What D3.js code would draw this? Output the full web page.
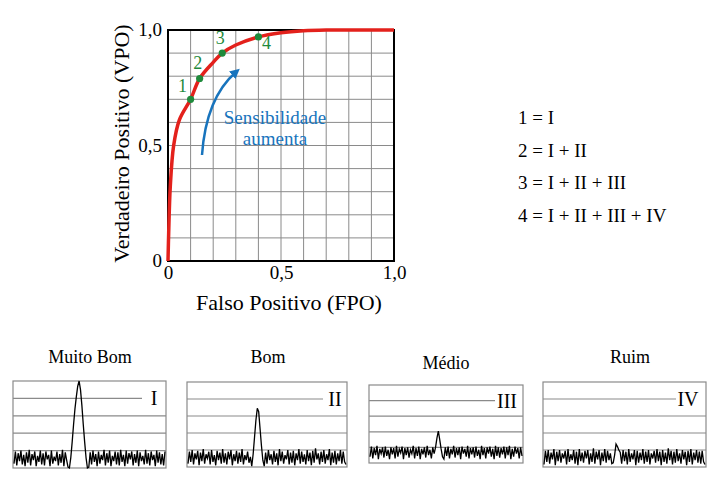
<!DOCTYPE html>
<html><head><meta charset="utf-8">
<script src="https://cdn.jsdelivr.net/npm/d3@7"></script>
<style>body{margin:0;background:#fff}svg{display:block}</style>
</head><body>
<svg id="c" width="715" height="500" font-family="Liberation Serif"></svg>
<script>
// ---- data ----
const rocFPO = [0,0.003,0.01,0.025,0.05,0.1,0.14,0.2,0.24,0.3,0.4,0.5,0.6,0.7,0.85,1.0];
const rocVPO = [0,0.12,0.32,0.5,0.61,0.7,0.79,0.86,0.9,0.935,0.97,0.988,0.997,1.0,1.0,1.0];
const pointFPO = [0.1,0.14,0.24,0.4];
const pointVPO = [0.7,0.79,0.9,0.97];
const pointLabels = ["1","2","3","4"];
const axisTicks = [0,0.5,1];
const axisTickLabels = ["0","0,5","1,0"];
const legendLines = ["1 = I","2 = I + II","3 = I + II + III","4 = I + II + III + IV"];
const panelTitles = ["Muito Bom","Bom","Médio","Ruim"];
const panelLabels = ["I","II","III","IV"];
const traceI = [0.05,0.19,0.03,0.17,0.08,0.2,0.04,0.15,0.02,0.18,
0.06,0.21,0.03,0.16,0.09,0.19,0.02,0.14,0.07,0.2,
0.04,0.17,0.03,0.19,0.1,0.15,0.02,0.2,0.05,0.13,
0.08,0.19,0.03,0.16,0.06,0.21,0.02,0.18,0.09,
0.01,0.0,
0.12,0.3,0.5,0.68,0.82,0.94,1.0,0.9,0.72,0.5,0.3,0.12,
0.0,0.01,
0.18,0.04,0.2,0.07,0.16,0.02,0.19,0.05,0.15,0.09,
0.21,0.03,0.17,0.06,0.2,0.02,0.14,0.08,0.19,0.04,
0.18,0.03,0.21,0.07,0.15,0.02,0.2,0.05,0.17,0.1,
0.19,0.03,0.16,0.06,0.2,0.02,0.18,0.08,0.14,0.04,
0.21,0.05,0.17,0.03,0.19,0.09,0.15,0.02,0.2,0.06,
0.18,0.04,0.16,0.03,0.19];
const traceII = [0.04,0.18,0.06,0.2,0.03,0.16,0.09,0.19,0.02,0.17,
0.07,0.21,0.04,0.15,0.1,0.18,0.03,0.2,0.06,0.14,
0.02,0.19,0.08,0.17,0.04,0.21,0.05,0.16,0.03,0.18,
0.09,0.2,0.02,0.15,0.07,0.19,0.04,0.17,0.06,0.21,
0.03,0.14,0.08,0.18,0.05,0.12,
0.01,0.15,0.35,0.55,0.69,0.65,0.45,0.25,0.08,0.01,
0.17,0.04,0.2,0.08,0.15,0.03,0.19,0.06,0.16,0.02,
0.21,0.07,0.18,0.04,0.14,0.09,0.2,0.03,0.17,0.05,
0.19,0.02,0.16,0.08,0.21,0.04,0.18,0.06,0.15,0.03,
0.2,0.07,0.17,0.02,0.19,0.05,0.22,0.09,0.16,0.03,
0.18,0.06,0.2,0.04,0.15,0.08,0.21,0.02,0.17,0.05,
0.19,0.03,0.16,0.07,0.2,0.04,0.18,0.06,0.03];
const traceIII = [0.08,0.21,0.06,0.19,0.1,0.22,0.05,0.18,0.12,0.2,
0.07,0.21,0.09,0.17,0.05,0.2,0.11,0.19,0.06,0.22,
0.08,0.18,0.13,0.21,0.05,0.19,0.1,0.2,0.07,0.17,
0.12,0.22,0.06,0.19,0.09,0.21,0.05,0.18,0.11,0.2,
0.07,0.22,0.1,0.17,0.06,0.2,0.12,
0.2,0.32,0.41,0.3,0.18,0.08,
0.05,0.2,0.09,0.21,0.06,0.18,0.11,0.22,0.07,0.19,
0.1,0.2,0.05,0.21,0.12,0.18,0.08,0.22,0.06,0.19,
0.11,0.2,0.07,0.21,0.09,0.17,0.05,0.22,0.1,0.19,
0.06,0.2,0.12,0.21,0.08,0.18,0.05,0.22,0.09,0.2,
0.07,0.19,0.11,0.21,0.06,0.2,0.1,0.22,0.05,0.18,
0.08,0.21,0.12,0.19,0.06,0.2,0.09];
const traceIV = [0.03,0.19,0.06,0.2,0.04,0.17,0.09,0.21,0.02,0.18,
0.07,0.2,0.05,0.16,0.1,0.19,0.03,0.21,0.06,0.15,
0.08,0.2,0.04,0.18,0.02,0.21,0.07,0.17,0.05,0.19,
0.1,0.2,0.03,0.16,0.06,0.22,0.04,0.18,0.09,0.2,
0.02,0.17,0.07,0.21,0.05,0.19,0.08,0.16,0.04,0.05,
0.14,0.27,0.24,0.2,
0.17,0.04,0.2,0.07,0.18,0.03,0.21,0.06,0.16,0.09,
0.2,0.02,0.19,0.05,0.17,0.08,0.21,0.04,0.18,0.06,
0.2,0.03,0.16,0.1,0.19,0.05,0.21,0.07,0.18,0.02,
0.2,0.06,0.17,0.04,0.22,0.08,0.19,0.03,0.18,0.05,
0.21,0.07,0.16,0.04,0.2,0.09,0.18,0.02,0.19,0.06,
0.21,0.03,0.17,0.08,0.2,0.05,0.18,0.04,0.19,0.06,0.03];
const traces = [traceI, traceII, traceIII, traceIV];

// ---- layout ----
const FONT = "Liberation Serif";
const svg = d3.select("#c");
const M = {x0:168, x1:394, y0:30, y1:261};
const x = d3.scaleLinear().domain([0,1]).range([M.x0,M.x1]);
const y = d3.scaleLinear().domain([0,1]).range([M.y1,M.y0]);
const gridTicks = d3.range(0,11).map(i=>i/10);

const g = svg.append("g");
g.selectAll("line.vg").data(gridTicks).join("line")
  .attr("x1",d=>x(d)).attr("x2",d=>x(d)).attr("y1",M.y0).attr("y2",M.y1)
  .attr("stroke","#8a8a8a").attr("stroke-width",1);
g.selectAll("line.hg").data(gridTicks).join("line")
  .attr("y1",d=>y(d)).attr("y2",d=>y(d)).attr("x1",M.x0).attr("x2",M.x1)
  .attr("stroke","#8a8a8a").attr("stroke-width",1);
g.append("rect").attr("x",M.x0).attr("y",M.y0).attr("width",M.x1-M.x0).attr("height",M.y1-M.y0)
  .attr("fill","none").attr("stroke","#000").attr("stroke-width",2);

const xAxis = d3.axisBottom(x).tickValues(axisTicks).tickFormat((d,i)=>axisTickLabels[i]).tickSize(0).tickPadding(5);
const ga = svg.append("g").attr("transform",`translate(0,${M.y1})`).call(xAxis);
ga.select(".domain").remove();
ga.attr("font-family",FONT).attr("font-size",19);
ga.selectAll("text").attr("fill","#000");
const yAxis = d3.axisLeft(y).tickValues(axisTicks).tickFormat((d,i)=>axisTickLabels[i]).tickSize(0).tickPadding(6);
const gy = svg.append("g").attr("transform",`translate(${M.x0},0)`).call(yAxis);
gy.select(".domain").remove();
gy.attr("font-family",FONT).attr("font-size",19);
gy.selectAll("text").attr("fill","#000").attr("dy","0.3em");

svg.append("text").attr("x",(M.x0+M.x1)/2+8).attr("y",310).attr("text-anchor","middle")
  .attr("font-family",FONT).attr("font-size",22).text("Falso Positivo (FPO)");
svg.append("text").attr("transform",`translate(129,${(M.y0+M.y1)/2-2}) rotate(-90)`).attr("text-anchor","middle")
  .attr("font-family",FONT).attr("font-size",22).text("Verdadeiro Positivo (VPO)");

// ROC curve
const rocData = rocFPO.map((v,i)=>[v,rocVPO[i]]);
svg.append("path").datum(rocData)
  .attr("d",d3.line().x(d=>x(d[0])).y(d=>y(d[1])).curve(d3.curveCatmullRom.alpha(0.5)))
  .attr("fill","none").attr("stroke","#e3211c").attr("stroke-width",3.5);

// points
const pts = pointFPO.map((v,i)=>({fx:v,vy:pointVPO[i],lab:pointLabels[i]}));
svg.selectAll("circle.p").data(pts).join("circle")
  .attr("cx",d=>x(d.fx)).attr("cy",d=>y(d.vy)).attr("r",3.6).attr("fill","#1f8a3c");
const labOff = [[-8,-7],[-2,-10],[-2,-9],[8,12]];
svg.selectAll("text.pl").data(pts).join("text")
  .attr("x",(d,i)=>x(d.fx)+labOff[i][0]).attr("y",(d,i)=>y(d.vy)+labOff[i][1])
  .attr("text-anchor","middle").attr("font-family",FONT).attr("font-size",18).attr("fill","#1f8a3c").text(d=>d.lab);

// arrow
svg.append("defs").append("marker").attr("id","ah").attr("viewBox","0 0 10 10")
  .attr("refX",5).attr("refY",5).attr("markerWidth",4).attr("markerHeight",4).attr("orient","auto")
  .append("path").attr("d","M0,0 L10,5 L0,10 z").attr("fill","#1874bd");
svg.append("path").attr("d","M202,155 Q206,98 236,72")
  .attr("fill","none").attr("stroke","#1874bd").attr("stroke-width",2.5).attr("marker-end","url(#ah)");
svg.append("text").attr("x",275).attr("y",124).attr("text-anchor","middle").attr("font-family",FONT).attr("font-size",19)
  .attr("fill","#1874bd").text("Sensibilidade");
svg.append("text").attr("x",275).attr("y",145).attr("text-anchor","middle").attr("font-family",FONT).attr("font-size",19)
  .attr("fill","#1874bd").text("aumenta");

// legend
svg.selectAll("text.lg").data(legendLines).join("text")
  .attr("x",518).attr("y",(d,i)=>124+i*32.7).attr("font-family",FONT).attr("font-size",19).text(d=>d);

// small panels
const panels = [
  {x0:13,x1:166,y0:381,y1:468,lx:154,tx:90,ty:363},
  {x0:187,x1:347,y0:382,y1:467,lx:335,tx:268,ty:363},
  {x0:369,x1:523,y0:385,y1:463,lx:507,tx:446,ty:369},
  {x0:543,x1:706,y0:382,y1:467,lx:688,tx:630,ty:363}
];
panels.forEach((p,k)=>{
  const gp = svg.append("g");
  const tr = traces[k];
  const px = d3.scaleLinear().domain([0,tr.length-1]).range([p.x0+1,p.x1-1]);
  const py = d3.scaleLinear().domain([0,1]).range([p.y1,p.y0]);
  [0.2,0.4,0.6,0.8].forEach(f=>{
    gp.append("line").attr("x1",p.x0).attr("x2",f===0.8?p.lx-12:p.x1)
      .attr("y1",py(f)).attr("y2",py(f)).attr("stroke","#8a8a8a").attr("stroke-width",1.2);
  });
  gp.append("rect").attr("x",p.x0).attr("y",p.y0).attr("width",p.x1-p.x0).attr("height",p.y1-p.y0)
    .attr("fill","none").attr("stroke","#8a8a8a").attr("stroke-width",1.2);
  gp.append("path").datum(tr).attr("d",d3.line().x((d,i)=>px(i)).y(d=>py(d)))
    .attr("fill","none").attr("stroke","#000").attr("stroke-width",1.3);
  gp.append("text").attr("x",p.lx).attr("y",py(0.8)+7).attr("text-anchor","middle").attr("font-family",FONT).attr("font-size",20).text(panelLabels[k]);
  gp.append("text").attr("x",p.tx).attr("y",p.ty).attr("text-anchor","middle").attr("font-family",FONT).attr("font-size",18).text(panelTitles[k]);
});
</script>
</body></html>
